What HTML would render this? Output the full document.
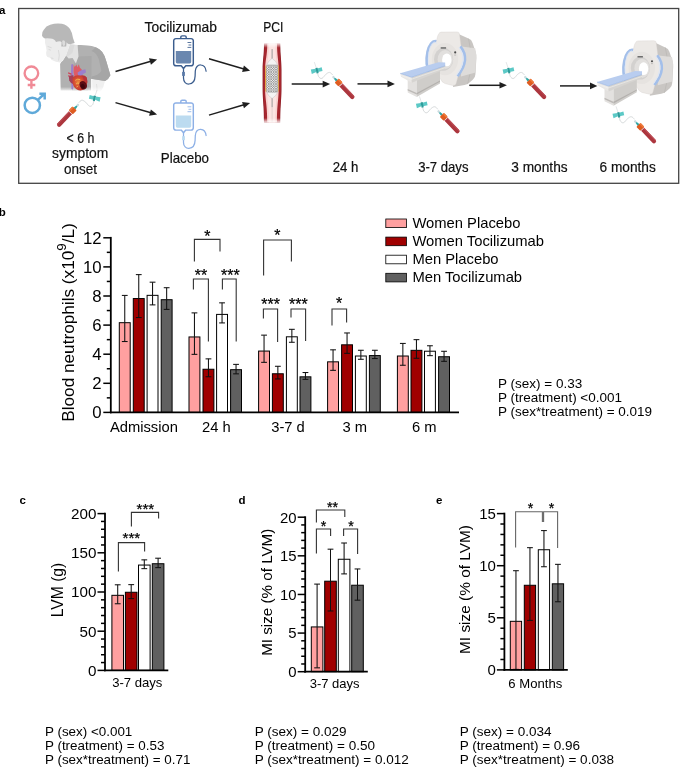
<!DOCTYPE html>
<html lang="en">
<head>
<meta charset="utf-8">
<title>Figure</title>
<style>
html,body{margin:0;padding:0;background:#fff;}
body{width:685px;height:767px;overflow:hidden;}
svg{display:block;}
</style>
</head>
<body>
<svg width="685" height="767" viewBox="0 0 685 767" font-family="'Liberation Sans', Arial, Helvetica, sans-serif" fill="#000">
<rect x="0" y="0" width="685" height="767" fill="#fff"/>
<text x="-1" y="14" font-size="11.5" text-anchor="start" font-weight="bold">a</text>
<text x="-1.2" y="216" font-size="11.5" text-anchor="start" font-weight="bold">b</text>
<text x="19.4" y="504" font-size="11.5" text-anchor="start" font-weight="bold">c</text>
<text x="238.5" y="504" font-size="11.5" text-anchor="start" font-weight="bold">d</text>
<text x="436.1" y="504" font-size="11.5" text-anchor="start" font-weight="bold">e</text>
<rect x="18.7" y="8.5" width="660" height="174.8" fill="none" stroke="#444" stroke-width="1.3"/>
<defs>
<linearGradient id="fadeBody" x1="0" y1="0" x2="0" y2="1">
<stop offset="0" stop-color="#fff" stop-opacity="0"/>
<stop offset="0.84" stop-color="#fff" stop-opacity="0"/>
<stop offset="1" stop-color="#fff" stop-opacity="1"/>
</linearGradient>
<linearGradient id="vesselFade" x1="0" y1="0" x2="0" y2="1">
<stop offset="0" stop-color="#fff" stop-opacity="0.9"/>
<stop offset="0.06" stop-color="#fff" stop-opacity="0"/>
<stop offset="0.94" stop-color="#fff" stop-opacity="0"/>
<stop offset="1" stop-color="#fff" stop-opacity="0.9"/>
</linearGradient>
<pattern id="mesh" width="2.4" height="2.4" patternUnits="userSpaceOnUse">
<rect width="2.4" height="2.4" fill="#f4f4f4"/>
<path d="M0 0 L2.4 2.4 M2.4 0 L0 2.4" stroke="#666" stroke-width="0.5"/>
</pattern>
<radialGradient id="heartG" cx="0.4" cy="0.45" r="0.7">
<stop offset="0" stop-color="#EC8A3A"/>
<stop offset="0.45" stop-color="#D44A32"/>
<stop offset="1" stop-color="#B02A2E"/>
</radialGradient>
<g id="bloodtube">
<line x1="-2.4" y1="-8.6" x2="0.2" y2="-1" stroke="#c9cdcf" stroke-width="0.5"/>
<path d="M0.95 2.2 C1.3 4.6 1.7 6 2.45 6.6 C3.6 8.2 5.2 8.1 6.3 6.9 C7.8 5.3 8.6 3.8 9.95 3.0 C11.2 2.0 12.2 1.6 12.95 1.75 C14.2 2.0 15.2 3.2 15.95 4.3" fill="none" stroke="#d6dadb" stroke-width="1"/>
<polygon points="-5.9,-1.2 -1,-1.9 -0.4,1.2 -4.9,3.3" fill="#5CC9C6"/>
<polygon points="0.7,-2.2 5,-3.4 5.8,0.3 1.2,1.2" fill="#5CC9C6"/>
<polygon points="-1.3,-2.6 0.9,-3 1.9,2.2 -0.1,2.7" fill="#2E9C9A"/>
<g transform="translate(21.9 11.8) rotate(46.5)">
<rect x="-8.6" y="-1.1" width="2.8" height="2.2" rx="0.9" fill="#C9DBDF"/>
<polygon points="-6,-0.75 -2.4,-1.3 -2.4,1.3 -6,0.75" fill="#2FA7A5"/>
<path d="M2 -2.1 H19.9 A2.1 2.1 0 0 1 19.9 2.1 H2 Z" fill="#AC363E"/>
<rect x="2.6" y="-2.1" width="1" height="4.2" fill="#f6e9e9"/>
<path d="M3.6 -2.1 H19.9 A2.1 2.1 0 0 1 21.6 -1.2 L3.6 -1.1 Z" fill="#BE5058"/>
<rect x="-2.7" y="-2.9" width="5.4" height="5.8" rx="0.9" fill="#DF5C20"/>
<rect x="-2.7" y="-2.9" width="5.4" height="1.7" rx="0.8" fill="#EE7A3A"/>
</g>
</g>
<g id="mri">
<!-- rear body -->
<path d="M63.5 9 L73.5 13.6 Q76.6 14.6 77.6 18 L80.6 27 Q81.6 30 81.4 33 L80.4 49.5 Q80.2 52.5 78 54.4 L74 58 Q72 59.6 69.5 60 L58 62 Z" fill="#C9C6C3"/>
<path d="M66.5 21.6 L80.2 23.2 L81.2 29 L80.6 47.6 L66 51.5 Z" fill="#DEDCDA"/>
<path d="M73.5 13.6 L75.2 22.6 M74.8 49.4 L72.6 59.2" stroke="#b3b0ad" stroke-width="0.5" fill="none"/>
<!-- front housing -->
<path d="M43.9 8.8 Q44.2 7.2 46.4 7.1 L62 6.9 Q64.2 6.9 64.5 9 L66 20.6 Q77.3 34.4 62.9 51.9 L61.2 58.4 Q60.6 60.8 57.6 60.4 L50 58.6 Q46.4 57 45.4 53.7 L34.1 48.8 A9.2 19 0 0 1 41.5 15.6 L42.9 10.4 Z" fill="#ECE9E6" stroke="#d3cfcb" stroke-width="0.35"/>
<!-- blue arcs -->
<path d="M41.3 16.2 A8.6 18.6 0 0 0 34.6 48.6" fill="none" stroke="#A3BFEA" stroke-width="2.5"/>
<path d="M42 18.6 A6 16.4 0 0 0 37.2 49.2" fill="none" stroke="#DCE6F6" stroke-width="0.8"/>
<path d="M65.4 21.4 Q76 34.4 62.6 51.2" fill="none" stroke="#A3BFEA" stroke-width="2.5"/>
<path d="M64 22.4 Q73.4 34.5 61.4 50.4" fill="none" stroke="#DCE6F6" stroke-width="1"/>
<!-- inner ring + bore -->
<ellipse cx="50" cy="34.1" rx="13.2" ry="16.2" fill="#E6E3E0"/>
<ellipse cx="48.6" cy="34.3" rx="9.6" ry="11.4" fill="#D3D1CF"/>
<ellipse cx="50.2" cy="34.5" rx="7.6" ry="9.6" fill="#E2E0DE"/>
<ellipse cx="51.8" cy="34.9" rx="4.7" ry="6.4" fill="#fff"/>
<!-- little details -->
<rect x="45.7" y="22.2" width="5.4" height="1.5" fill="#6e6e6e"/>
<circle cx="60.2" cy="27.4" r="1.05" fill="#4a4a4a"/>
<rect x="59.2" y="29.8" width="1.9" height="0.45" fill="#8a8a8a"/>
<!-- table base -->
<polygon points="12.7,53 21.7,56 21.7,72 12.7,67.5" fill="#E3E1DF"/>
<polygon points="21.7,55 45,44 45,58.5 21.7,72" fill="#CFCDCA"/>
<polygon points="12.7,64 21.7,68 21.7,69.6 12.7,65.5" fill="#bdbab7"/>
<polygon points="21.7,68 45,55.6 45,56.8 21.7,69.6" fill="#b4b1ae"/>
<!-- table slab -->
<polygon points="5.2,48.3 16.5,52.2 16.8,57.7 6,51.7" fill="#E9E7E5"/>
<polygon points="16.5,52.2 50.2,40.8 50.2,44.2 16.8,57.7" fill="#D6D4D1"/>
<polygon points="5.2,48.3 43.5,37.2 50.2,37.5 50.2,40.8 16.5,52.2" fill="#B9CDEF"/>
<path d="M5.2 48.3 L16.5 52.2 L50.2 40.8" fill="none" stroke="#8FAEE0" stroke-width="0.55"/>
<path d="M6 50.4 L16.6 54.2 L50.2 42.6" fill="none" stroke="#f7f6f5" stroke-width="0.5"/>
</g>
</defs>
<g id="person">
<path d="M92 78 L105 81 Q104 87 100.5 92 L92.5 91.5 Z" fill="#F0F0F0"/>
<path d="M96.5 84 Q97.5 88 96.6 92" stroke="#d6d6d6" stroke-width="0.6" fill="none"/>
<path d="M77.6 45.1 Q83 44.8 87.6 45.5 Q92 45.9 95.7 47.2 Q99.6 48.8 102.2 51.9 Q105 55.6 106.3 61.2 L110.4 75.2 Q108.6 79.2 105.1 81.1 L91.1 78.7 L91.1 90.6 L60.7 90.6 L60.1 64.1 Q61 61.6 63 60.6 L66 55.4 L72 50 Z" fill="#B1B1B1"/>
<path d="M91.6 51 Q97 53 99 60 L101.4 71 Q98 75.6 91.6 76.4 L91.1 78.7 L105.1 81.1 Q108.6 79.2 110.4 75.2 L106.3 61.2 Q105 55.6 102.2 51.9 Q99.6 48.8 95.7 47.2 Z" fill="#A6A6A6"/>
<path d="M78.5 56.6 L91.6 56 L91.4 76.4 L88 90.6 L72 90.6 L74 64 Z" fill="#A9A9A9"/>
<path d="M66 55.4 L70 44.3 L77.6 45.1 L78.5 56.6 L75.9 63.4 L72.6 58 L68.6 58.4 Z" fill="#E3E3E3"/>
<path d="M70 44.3 L74.6 44.8 L72.4 53 L67.4 56.8 L66 55.4 Z" fill="#DBDBDB"/>
<path d="M44.9 38.4 Q44.6 43 46.1 47.2 L46.6 50.4 Q45.6 53.4 46.4 55.6 L47.5 57 L50.6 57.9 L51.1 59.4 L52.4 60.2 Q55.6 62.2 60.1 62.4 Q63.6 59.6 66 55.4 L70 44.3 L64 37.4 L52 34.4 Z" fill="#ECECEC"/>
<path d="M47.6 46.4 L51.6 47.8 M48.6 49.4 L50.8 50.2 M50.6 57.9 L53.4 58.4 M58.4 50 Q60 55 58.6 60.6" stroke="#c9c9c9" stroke-width="0.55" fill="none"/>
<path d="M44.9 38.4 Q42.4 37.6 42 35.5 Q41.6 32 43.8 29.7 Q46 26 50.2 24.8 Q56 22.8 61.9 23.8 Q67.4 25.2 70 29.1 Q72.4 33 73 37.9 L74.7 43.1 L70 44.3 Q67.4 44 66.6 42.2 L66.2 46.6 L61.3 46.6 L61.6 42.2 Q60.4 40.6 56 41.9 Q54.6 38.6 50.4 38.4 Q47 38 44.9 38.4 Z" fill="#B8B8B8"/>
<path d="M62.2 40.8 Q64.4 39.4 65.2 42 Q65.6 45.4 63.6 46.4 Q61.8 44 62.2 40.8 Z" fill="#DCDCDC"/>
<rect x="58" y="60" width="56" height="32" fill="url(#fadeBody)"/>
<g id="heart">
<path d="M71.2 64.4 L73 64 L73.4 76 L73 89.4 L71.4 89 Q71.8 82 71 76 Z" fill="#9B7FCC"/>
<path d="M68.2 72.2 L71.6 73.6 L71.4 75 L68 73.6 Z M68.4 75 L71.4 76.4 L71.2 77.8 L68.2 76.4 Z" fill="#D04458"/>
<path d="M73.6 64.2 L74.8 67 L76.4 64.6 L77.4 67.2 L78.8 64.2 L79.8 67.6 Q82.4 69.4 82.6 73 L81.4 78 L75 79 Q72.8 72 73.6 64.2 Z" fill="#DE5B66"/>
<path d="M77.6 72.6 Q81 69.4 85.4 69.2 L86 72.4 Q82.6 73.4 81.6 76.6 L78.4 77.6 Z" fill="#9B7FCC"/>
<path d="M68.9 76.6 Q71 74.8 73.6 75.4 L73.2 84 Q70.4 83.4 69.2 80.6 Z" fill="#A4405A"/>
<path d="M72.6 77.6 Q76 74.6 80.4 75.6 Q84.6 74.6 86.6 77.6 Q88 81.6 86.6 85.6 Q84.8 90 80.6 90.6 Q76.4 90.4 74 86.8 Q72 83.4 72.6 77.6 Z" fill="url(#heartG)"/>
<path d="M82.4 76 Q85.4 75.6 86.6 77.6 Q87.4 80 87.2 82.4 L84 80.6 Z" fill="#B8343A"/>
<ellipse cx="83.2" cy="85.2" rx="3.5" ry="4.3" fill="#5C0D14" transform="rotate(-24 83.2 85.2)"/>
<ellipse cx="82.8" cy="86.2" rx="2" ry="2.5" fill="#3E060C" transform="rotate(-24 82.8 86.2)"/>
<path d="M75.2 80.4 Q77.6 78.4 80.2 79.6 M76 84 Q77.6 82.6 79.2 83.4 M76.4 87 L78 86.4" stroke="#F6C85A" stroke-width="0.7" fill="none"/>
</g>
</g>
<g fill="none" stroke="#F08A96" stroke-width="2.35"><circle cx="31.4" cy="73.3" r="6.8"/><path d="M31.4 80.2 V88.8 M27.7 85 H35.3"/></g>
<g fill="none" stroke="#5FA9D9" stroke-width="2.5"><circle cx="32.3" cy="105.3" r="7.65"/><path d="M37.8 99.9 L44.2 94 M39.4 93.7 H44.7 V99.4"/></g>
<use href="#bloodtube" transform="translate(94.7 98.5) scale(-1 1)"/>
<text x="66.5" y="142.8" font-size="13.9" textLength="27.8" lengthAdjust="spacingAndGlyphs" fill="#111" stroke="#111" stroke-width="0.2">&lt; 6 h</text>
<text x="52.1" y="158.3" font-size="13.9" textLength="56.1" lengthAdjust="spacingAndGlyphs" fill="#111" stroke="#111" stroke-width="0.2">symptom</text>
<text x="63.9" y="173.8" font-size="13.9" textLength="33.1" lengthAdjust="spacingAndGlyphs" fill="#111" stroke="#111" stroke-width="0.2">onset</text>
<text x="144.6" y="31.9" font-size="13.9" textLength="72.3" lengthAdjust="spacingAndGlyphs" fill="#111" stroke="#111" stroke-width="0.2">Tocilizumab</text>
<text x="263.3" y="31.9" font-size="13.9" textLength="20.1" lengthAdjust="spacingAndGlyphs" fill="#111" stroke="#111" stroke-width="0.2">PCI</text>
<text x="160.8" y="162.8" font-size="13.9" textLength="48.2" lengthAdjust="spacingAndGlyphs" fill="#111" stroke="#111" stroke-width="0.2">Placebo</text>
<text x="332.7" y="172.1" font-size="13.9" textLength="25.7" lengthAdjust="spacingAndGlyphs" fill="#111" stroke="#111" stroke-width="0.2">24 h</text>
<text x="418.2" y="172.1" font-size="13.9" textLength="50.3" lengthAdjust="spacingAndGlyphs" fill="#111" stroke="#111" stroke-width="0.2">3-7 days</text>
<text x="511.3" y="172.1" font-size="13.9" textLength="56.3" lengthAdjust="spacingAndGlyphs" fill="#111" stroke="#111" stroke-width="0.2">3 months</text>
<text x="599.5" y="172.1" font-size="13.9" textLength="56.3" lengthAdjust="spacingAndGlyphs" fill="#111" stroke="#111" stroke-width="0.2">6 months</text>
<line x1="115.5" y1="71.5" x2="150.95" y2="61.19" stroke="#1f1f1f" stroke-width="1.5"/>
<polygon points="157.1,59.4 150.92,64.64 149.07,58.3" fill="#1f1f1f"/>
<line x1="115.5" y1="102.6" x2="150.95" y2="112.83" stroke="#1f1f1f" stroke-width="1.5"/>
<polygon points="157.1,114.6 149.08,115.72 150.9,109.38" fill="#1f1f1f"/>
<line x1="209" y1="58.8" x2="243.96" y2="69.01" stroke="#1f1f1f" stroke-width="1.5"/>
<polygon points="250.1,70.8 242.07,71.89 243.92,65.56" fill="#1f1f1f"/>
<line x1="209" y1="115.1" x2="243.96" y2="104.81" stroke="#1f1f1f" stroke-width="1.5"/>
<polygon points="250.1,103 243.93,108.26 242.07,101.92" fill="#1f1f1f"/>
<line x1="291.7" y1="84.1" x2="323.7" y2="84.1" stroke="#1f1f1f" stroke-width="1.5"/>
<polygon points="330.1,84.1 322.7,87.4 322.7,80.8" fill="#1f1f1f"/>
<line x1="357.5" y1="83.9" x2="388.5" y2="83.9" stroke="#1f1f1f" stroke-width="1.5"/>
<polygon points="394.9,83.9 387.5,87.2 387.5,80.6" fill="#1f1f1f"/>
<line x1="469.3" y1="85.3" x2="500.5" y2="85.3" stroke="#1f1f1f" stroke-width="1.5"/>
<polygon points="506.9,85.3 499.5,88.6 499.5,82" fill="#1f1f1f"/>
<line x1="560" y1="85.9" x2="591" y2="85.9" stroke="#1f1f1f" stroke-width="1.5"/>
<polygon points="597.4,85.9 590,89.2 590,82.6" fill="#1f1f1f"/>
<g transform="translate(173.5 35.6)" fill="none" stroke="#3B5D8E" stroke-linecap="round" stroke-linejoin="round">
<path d="M7.3 3 V1.6 A1.3 1.3 0 0 1 8.6 0.3 H11.4 A1.3 1.3 0 0 1 12.7 1.6 V3" stroke-width="1.4"/>
<path d="M2.4 3 H17.6 A2.2 2.2 0 0 1 19.8 5.2 V27.8 A2.4 2.4 0 0 1 17.4 30.2 H12.3 L10 32.8 L7.7 30.2 H2.6 A2.4 2.4 0 0 1 0.2 27.8 V5.2 A2.2 2.2 0 0 1 2.4 3 Z" fill="#fff" stroke-width="1.45"/>
<path d="M2.3 15.5 H17.7 V26.2 A1.6 1.6 0 0 1 16.1 27.8 H3.9 A1.6 1.6 0 0 1 2.3 26.2 Z" stroke="none" fill="#6A87AF"/>
<path d="M14.4 6.9 H17.4 M15.4 9.4 H17.4 M14.4 11.8 H17.4" stroke-width="0.85"/>
<path d="M10 32.8 V42.5 C10 46.5 12.5 48.6 15.5 48.4 C19.5 48.2 21.4 45 21.6 40.5 L21.8 35.5 C22 31.5 24.4 29.2 27.2 29.4 C30.4 29.6 32.2 32 32.6 35.6" stroke-width="1.25"/>
<rect x="8.6" y="36.3" width="2.8" height="4" stroke="none" fill="#5B7BA8"/>
</g>
<g transform="translate(173.5 99.9)" fill="none" stroke="#8DB0E6" stroke-linecap="round" stroke-linejoin="round">
<path d="M7.3 3 V1.6 A1.3 1.3 0 0 1 8.6 0.3 H11.4 A1.3 1.3 0 0 1 12.7 1.6 V3" stroke-width="1.4"/>
<path d="M2.4 3 H17.6 A2.2 2.2 0 0 1 19.8 5.2 V27.8 A2.4 2.4 0 0 1 17.4 30.2 H12.3 L10 32.8 L7.7 30.2 H2.6 A2.4 2.4 0 0 1 0.2 27.8 V5.2 A2.2 2.2 0 0 1 2.4 3 Z" fill="#fff" stroke-width="1.45"/>
<path d="M2.3 15.5 H17.7 V26.2 A1.6 1.6 0 0 1 16.1 27.8 H3.9 A1.6 1.6 0 0 1 2.3 26.2 Z" stroke="none" fill="#BCDBF0"/>
<path d="M14.4 6.9 H17.4 M15.4 9.4 H17.4 M14.4 11.8 H17.4" stroke-width="0.85"/>
<path d="M10 32.8 V42.5 C10 46.5 12.5 48.6 15.5 48.4 C19.5 48.2 21.4 45 21.6 40.5 L21.8 35.5 C22 31.5 24.4 29.2 27.2 29.4 C30.4 29.6 32.2 32 32.6 35.6" stroke-width="1.25"/>
<rect x="8.6" y="36.3" width="2.8" height="4" stroke="none" fill="#BCDBF0"/>
</g>
<g id="vessel">
<path d="M264 43.2 C264 56 262.6 60 262.6 70 L262.6 88 C262.6 100 264 104 264 122.6 H280.3 C280.3 104 281.5 100 281.5 88 L281.5 70 C281.5 60 280.3 56 280.3 43.2 Z" fill="#8A1A22"/>
<path d="M264.5 43.2 C264.5 56 263.1 60 263.1 70 L263.1 88 C263.1 100 264.5 104 264.5 122.6 H279.8 C279.8 104 281 100 281 88 L281 70 C281 60 279.8 56 279.8 43.2 Z" fill="#A6272F"/>
<path d="M267.3 43.2 C267.3 56 265.1 60 265.1 70 L265.1 88 C265.1 100 267.3 104 267.3 122.6 H277 C277 104 278.7 100 278.7 88 L278.7 70 C278.7 60 277 56 277 43.2 Z" fill="#F9D2D0"/>
<path d="M269 43.2 C269 56 267 60 267 70 L267 88 C267 100 269 104 269 122.6 H275.4 C275.4 104 276.8 100 276.8 88 L276.8 70 C276.8 60 275.4 56 275.4 43.2 Z" fill="#FCE4E2"/>
<path d="M265.9 65.5 Q265.1 78.5 265.9 91.6" stroke="#EDA31E" stroke-width="0.9" fill="none"/>
<path d="M278.1 65.5 Q278.9 78.5 278.1 91.6" stroke="#EDA31E" stroke-width="0.9" fill="none"/>
<line x1="272.1" y1="49.1" x2="272.1" y2="107.2" stroke="#999" stroke-width="1"/>
<line x1="272.1" y1="107.2" x2="272.1" y2="122.6" stroke="#c9b9b9" stroke-width="0.45"/>
<path d="M272.1 58.3 Q267.6 61.4 266.6 65.4 H277.7 Q276.7 61.4 272.1 58.3 Z" fill="#F4F4F4" stroke="#b5b5b5" stroke-width="0.4"/>
<path d="M272.1 98.6 Q267.6 95.6 266.6 91.8 H277.7 Q276.7 95.6 272.1 98.6 Z" fill="#F4F4F4" stroke="#b5b5b5" stroke-width="0.4"/>
<rect x="266.3" y="65" width="11.7" height="27.2" rx="1.8" fill="url(#mesh)" stroke="#8c8c8c" stroke-width="0.4"/>
<rect x="262" y="43" width="20" height="79.8" fill="url(#vesselFade)"/>
</g>
<use href="#bloodtube" transform="translate(316.7 70.7)"/>
<use href="#bloodtube" transform="translate(421.8 105)"/>
<use href="#bloodtube" transform="translate(508.5 70.7)"/>
<use href="#bloodtube" transform="translate(618.4 115)"/>
<use href="#mri" transform="translate(395 25)"/>
<use href="#mri" transform="translate(591.8 33.8)"/>
<rect x="119.3" y="322.69" width="10.9" height="89.71" fill="#FFA0A0" stroke="#000" stroke-width="1"/>
<line x1="124.75" y1="341.54" x2="124.75" y2="295.42" stroke="#111" stroke-width="1.05"/>
<line x1="121.85" y1="295.42" x2="127.65" y2="295.42" stroke="#111" stroke-width="1.05"/>
<line x1="121.85" y1="341.54" x2="127.65" y2="341.54" stroke="#111" stroke-width="1.05"/>
<rect x="133.3" y="298.54" width="10.9" height="113.86" fill="#A00000" stroke="#000" stroke-width="1"/>
<line x1="138.75" y1="317.53" x2="138.75" y2="274.61" stroke="#111" stroke-width="1.05"/>
<line x1="135.85" y1="274.61" x2="141.65" y2="274.61" stroke="#111" stroke-width="1.05"/>
<line x1="135.85" y1="317.53" x2="141.65" y2="317.53" stroke="#111" stroke-width="1.05"/>
<rect x="147.1" y="295.34" width="10.9" height="117.06" fill="#FFFFFF" stroke="#000" stroke-width="1"/>
<line x1="152.55" y1="304.88" x2="152.55" y2="282.18" stroke="#111" stroke-width="1.05"/>
<line x1="149.65" y1="282.18" x2="155.45" y2="282.18" stroke="#111" stroke-width="1.05"/>
<line x1="149.65" y1="304.88" x2="155.45" y2="304.88" stroke="#111" stroke-width="1.05"/>
<rect x="161.2" y="299.7" width="10.9" height="112.7" fill="#606060" stroke="#000" stroke-width="1"/>
<line x1="166.65" y1="309.39" x2="166.65" y2="287.71" stroke="#111" stroke-width="1.05"/>
<line x1="163.75" y1="287.71" x2="169.55" y2="287.71" stroke="#111" stroke-width="1.05"/>
<line x1="163.75" y1="309.39" x2="169.55" y2="309.39" stroke="#111" stroke-width="1.05"/>
<rect x="189" y="336.95" width="10.9" height="75.45" fill="#FFA0A0" stroke="#000" stroke-width="1"/>
<line x1="194.45" y1="354.35" x2="194.45" y2="312.88" stroke="#111" stroke-width="1.05"/>
<line x1="191.55" y1="312.88" x2="197.35" y2="312.88" stroke="#111" stroke-width="1.05"/>
<line x1="191.55" y1="354.35" x2="197.35" y2="354.35" stroke="#111" stroke-width="1.05"/>
<rect x="203" y="369.25" width="10.9" height="43.15" fill="#A00000" stroke="#000" stroke-width="1"/>
<line x1="208.45" y1="376.75" x2="208.45" y2="358.86" stroke="#111" stroke-width="1.05"/>
<line x1="205.55" y1="358.86" x2="211.35" y2="358.86" stroke="#111" stroke-width="1.05"/>
<line x1="205.55" y1="376.75" x2="211.35" y2="376.75" stroke="#111" stroke-width="1.05"/>
<rect x="216.6" y="314.4" width="10.9" height="98" fill="#FFFFFF" stroke="#000" stroke-width="1"/>
<line x1="222.05" y1="322.92" x2="222.05" y2="302.84" stroke="#111" stroke-width="1.05"/>
<line x1="219.15" y1="302.84" x2="224.95" y2="302.84" stroke="#111" stroke-width="1.05"/>
<line x1="219.15" y1="322.92" x2="224.95" y2="322.92" stroke="#111" stroke-width="1.05"/>
<rect x="230.6" y="369.69" width="10.9" height="42.71" fill="#606060" stroke="#000" stroke-width="1"/>
<line x1="236.05" y1="373.84" x2="236.05" y2="364.38" stroke="#111" stroke-width="1.05"/>
<line x1="233.15" y1="364.38" x2="238.95" y2="364.38" stroke="#111" stroke-width="1.05"/>
<line x1="233.15" y1="373.84" x2="238.95" y2="373.84" stroke="#111" stroke-width="1.05"/>
<rect x="258.6" y="351.06" width="10.9" height="61.34" fill="#FFA0A0" stroke="#000" stroke-width="1"/>
<line x1="264.05" y1="362.35" x2="264.05" y2="335.14" stroke="#111" stroke-width="1.05"/>
<line x1="261.15" y1="335.14" x2="266.95" y2="335.14" stroke="#111" stroke-width="1.05"/>
<line x1="261.15" y1="362.35" x2="266.95" y2="362.35" stroke="#111" stroke-width="1.05"/>
<rect x="272.4" y="373.76" width="10.9" height="38.64" fill="#A00000" stroke="#000" stroke-width="1"/>
<line x1="277.85" y1="378.94" x2="277.85" y2="366.28" stroke="#111" stroke-width="1.05"/>
<line x1="274.95" y1="366.28" x2="280.75" y2="366.28" stroke="#111" stroke-width="1.05"/>
<line x1="274.95" y1="378.94" x2="280.75" y2="378.94" stroke="#111" stroke-width="1.05"/>
<rect x="286.4" y="336.8" width="10.9" height="75.6" fill="#FFFFFF" stroke="#000" stroke-width="1"/>
<line x1="291.85" y1="342.27" x2="291.85" y2="329.32" stroke="#111" stroke-width="1.05"/>
<line x1="288.95" y1="329.32" x2="294.75" y2="329.32" stroke="#111" stroke-width="1.05"/>
<line x1="288.95" y1="342.27" x2="294.75" y2="342.27" stroke="#111" stroke-width="1.05"/>
<rect x="300" y="376.82" width="10.9" height="35.58" fill="#606060" stroke="#000" stroke-width="1"/>
<line x1="305.45" y1="379.37" x2="305.45" y2="372.53" stroke="#111" stroke-width="1.05"/>
<line x1="302.55" y1="372.53" x2="308.35" y2="372.53" stroke="#111" stroke-width="1.05"/>
<line x1="302.55" y1="379.37" x2="308.35" y2="379.37" stroke="#111" stroke-width="1.05"/>
<rect x="327.6" y="361.83" width="10.9" height="50.57" fill="#FFA0A0" stroke="#000" stroke-width="1"/>
<line x1="333.05" y1="370.35" x2="333.05" y2="349.83" stroke="#111" stroke-width="1.05"/>
<line x1="330.15" y1="349.83" x2="335.95" y2="349.83" stroke="#111" stroke-width="1.05"/>
<line x1="330.15" y1="370.35" x2="335.95" y2="370.35" stroke="#111" stroke-width="1.05"/>
<rect x="341.6" y="344.81" width="10.9" height="67.59" fill="#A00000" stroke="#000" stroke-width="1"/>
<line x1="347.05" y1="353.33" x2="347.05" y2="332.96" stroke="#111" stroke-width="1.05"/>
<line x1="344.15" y1="332.96" x2="349.95" y2="332.96" stroke="#111" stroke-width="1.05"/>
<line x1="344.15" y1="353.33" x2="349.95" y2="353.33" stroke="#111" stroke-width="1.05"/>
<rect x="355.4" y="356.01" width="10.9" height="56.39" fill="#FFFFFF" stroke="#000" stroke-width="1"/>
<line x1="360.85" y1="359.29" x2="360.85" y2="350.27" stroke="#111" stroke-width="1.05"/>
<line x1="357.95" y1="350.27" x2="363.75" y2="350.27" stroke="#111" stroke-width="1.05"/>
<line x1="357.95" y1="359.29" x2="363.75" y2="359.29" stroke="#111" stroke-width="1.05"/>
<rect x="369.4" y="355.57" width="10.9" height="56.83" fill="#606060" stroke="#000" stroke-width="1"/>
<line x1="374.85" y1="358.56" x2="374.85" y2="350.27" stroke="#111" stroke-width="1.05"/>
<line x1="371.95" y1="350.27" x2="377.75" y2="350.27" stroke="#111" stroke-width="1.05"/>
<line x1="371.95" y1="358.56" x2="377.75" y2="358.56" stroke="#111" stroke-width="1.05"/>
<rect x="397.4" y="356.01" width="10.9" height="56.39" fill="#FFA0A0" stroke="#000" stroke-width="1"/>
<line x1="402.85" y1="365.26" x2="402.85" y2="343.43" stroke="#111" stroke-width="1.05"/>
<line x1="399.95" y1="343.43" x2="405.75" y2="343.43" stroke="#111" stroke-width="1.05"/>
<line x1="399.95" y1="365.26" x2="405.75" y2="365.26" stroke="#111" stroke-width="1.05"/>
<rect x="411" y="350.33" width="10.9" height="62.06" fill="#A00000" stroke="#000" stroke-width="1"/>
<line x1="416.45" y1="358.27" x2="416.45" y2="339.65" stroke="#111" stroke-width="1.05"/>
<line x1="413.55" y1="339.65" x2="419.35" y2="339.65" stroke="#111" stroke-width="1.05"/>
<line x1="413.55" y1="358.27" x2="419.35" y2="358.27" stroke="#111" stroke-width="1.05"/>
<rect x="424.5" y="351.21" width="10.9" height="61.19" fill="#FFFFFF" stroke="#000" stroke-width="1"/>
<line x1="429.95" y1="355.65" x2="429.95" y2="345.76" stroke="#111" stroke-width="1.05"/>
<line x1="427.05" y1="345.76" x2="432.85" y2="345.76" stroke="#111" stroke-width="1.05"/>
<line x1="427.05" y1="355.65" x2="432.85" y2="355.65" stroke="#111" stroke-width="1.05"/>
<rect x="438.6" y="356.74" width="10.9" height="55.66" fill="#606060" stroke="#000" stroke-width="1"/>
<line x1="444.05" y1="361.33" x2="444.05" y2="351.29" stroke="#111" stroke-width="1.05"/>
<line x1="441.15" y1="351.29" x2="446.95" y2="351.29" stroke="#111" stroke-width="1.05"/>
<line x1="441.15" y1="361.33" x2="446.95" y2="361.33" stroke="#111" stroke-width="1.05"/>
<line x1="110.8" y1="236.9" x2="110.8" y2="413.3" stroke="#000" stroke-width="1.8"/>
<line x1="109.9" y1="412.4" x2="459" y2="412.4" stroke="#000" stroke-width="1.8"/>
<line x1="103.3" y1="412.4" x2="110.8" y2="412.4" stroke="#000" stroke-width="1.5"/>
<text x="101.6" y="418.43" font-size="16.75" text-anchor="end">0</text>
<line x1="106.8" y1="397.85" x2="110.8" y2="397.85" stroke="#000" stroke-width="1.5"/>
<line x1="103.3" y1="383.3" x2="110.8" y2="383.3" stroke="#000" stroke-width="1.5"/>
<text x="101.6" y="389.33" font-size="16.75" text-anchor="end">2</text>
<line x1="106.8" y1="368.75" x2="110.8" y2="368.75" stroke="#000" stroke-width="1.5"/>
<line x1="103.3" y1="354.2" x2="110.8" y2="354.2" stroke="#000" stroke-width="1.5"/>
<text x="101.6" y="360.23" font-size="16.75" text-anchor="end">4</text>
<line x1="106.8" y1="339.65" x2="110.8" y2="339.65" stroke="#000" stroke-width="1.5"/>
<line x1="103.3" y1="325.1" x2="110.8" y2="325.1" stroke="#000" stroke-width="1.5"/>
<text x="101.6" y="331.13" font-size="16.75" text-anchor="end">6</text>
<line x1="106.8" y1="310.55" x2="110.8" y2="310.55" stroke="#000" stroke-width="1.5"/>
<line x1="103.3" y1="296" x2="110.8" y2="296" stroke="#000" stroke-width="1.5"/>
<text x="101.6" y="302.03" font-size="16.75" text-anchor="end">8</text>
<line x1="106.8" y1="281.45" x2="110.8" y2="281.45" stroke="#000" stroke-width="1.5"/>
<line x1="103.3" y1="266.9" x2="110.8" y2="266.9" stroke="#000" stroke-width="1.5"/>
<text x="101.6" y="272.93" font-size="16.75" text-anchor="end">10</text>
<line x1="106.8" y1="252.35" x2="110.8" y2="252.35" stroke="#000" stroke-width="1.5"/>
<line x1="103.3" y1="237.8" x2="110.8" y2="237.8" stroke="#000" stroke-width="1.5"/>
<text x="101.6" y="243.83" font-size="16.75" text-anchor="end">12</text>
<text x="143.9" y="432.2" font-size="14.75" text-anchor="middle">Admission</text>
<text x="216.3" y="432.2" font-size="14.75" text-anchor="middle">24 h</text>
<text x="288" y="432.2" font-size="14.75" text-anchor="middle">3-7 d</text>
<text x="354.7" y="432.2" font-size="14.75" text-anchor="middle">3 m</text>
<text x="424.3" y="432.2" font-size="14.75" text-anchor="middle">6 m</text>
<text transform="translate(74.0 322.5) rotate(-90)" font-size="17.2" text-anchor="middle">Blood neutrophils (x10<tspan font-size="13.4" dy="-7.6">9</tspan><tspan dy="7.6">/L)</tspan></text>
<path d="M194.4 261.4 V239.4 H220 V251.6" stroke="#333" stroke-width="1.1" fill="none"/>
<text x="207.4" y="241.75" font-size="15.96" text-anchor="middle" stroke="#000" stroke-width="0.25">*</text>
<path d="M193.4 289.4 V279 H208.4 V341.6" stroke="#333" stroke-width="1.1" fill="none"/>
<text x="201" y="280.75" font-size="15.96" text-anchor="middle" stroke="#000" stroke-width="0.25">**</text>
<path d="M222.4 289.4 V279 H236.2 V341.6" stroke="#333" stroke-width="1.1" fill="none"/>
<text x="230.4" y="280.75" font-size="15.96" text-anchor="middle" stroke="#000" stroke-width="0.25">***</text>
<path d="M263.6 275.4 V240 H291.4 V261.6" stroke="#333" stroke-width="1.1" fill="none"/>
<text x="277.4" y="241.45" font-size="15.96" text-anchor="middle" stroke="#000" stroke-width="0.25">*</text>
<path d="M263.4 318.4 V309 H277.6 V342" stroke="#333" stroke-width="1.1" fill="none"/>
<text x="270.6" y="309.95" font-size="15.96" text-anchor="middle" stroke="#000" stroke-width="0.25">***</text>
<path d="M291 317.4 V309 H305.6 V341" stroke="#333" stroke-width="1.1" fill="none"/>
<text x="298.4" y="309.95" font-size="15.96" text-anchor="middle" stroke="#000" stroke-width="0.25">***</text>
<path d="M332 325.6 V309 H346.6 V322.6" stroke="#333" stroke-width="1.1" fill="none"/>
<text x="339.2" y="308.95" font-size="15.96" text-anchor="middle" stroke="#000" stroke-width="0.25">*</text>
<rect x="385.8" y="219" width="20.6" height="8.6" fill="#FFA0A0" stroke="#000" stroke-width="0.8"/>
<text x="412.4" y="227.7" font-size="14.78" text-anchor="start">Women Placebo</text>
<rect x="385.8" y="237.1" width="20.6" height="8.6" fill="#A00000" stroke="#000" stroke-width="0.8"/>
<text x="412.4" y="245.95" font-size="14.78" text-anchor="start">Women Tocilizumab</text>
<rect x="385.8" y="255.2" width="20.6" height="8.6" fill="#FFFFFF" stroke="#000" stroke-width="0.8"/>
<text x="412.4" y="264.2" font-size="14.78" text-anchor="start">Men Placebo</text>
<rect x="385.8" y="273.3" width="20.6" height="8.6" fill="#606060" stroke="#000" stroke-width="0.8"/>
<text x="412.4" y="282.45" font-size="14.78" text-anchor="start">Men Tocilizumab</text>
<text x="498.1" y="388.2" font-size="13.5" text-anchor="start">P (sex) = 0.33</text>
<text x="498.1" y="402.2" font-size="13.5" text-anchor="start">P (treatment) &lt;0.001</text>
<text x="498.1" y="416.2" font-size="13.5" text-anchor="start">P (sex*treatment) = 0.019</text>
<rect x="111.9" y="595.32" width="11.6" height="75.08" fill="#FFA0A0" stroke="#000" stroke-width="1"/>
<line x1="117.7" y1="603.76" x2="117.7" y2="584.79" stroke="#111" stroke-width="1.05"/>
<line x1="114.8" y1="584.79" x2="120.6" y2="584.79" stroke="#111" stroke-width="1.05"/>
<line x1="114.8" y1="603.76" x2="120.6" y2="603.76" stroke="#111" stroke-width="1.05"/>
<rect x="125.4" y="592.26" width="11.6" height="78.14" fill="#A00000" stroke="#000" stroke-width="1"/>
<line x1="131.2" y1="598.59" x2="131.2" y2="584.63" stroke="#111" stroke-width="1.05"/>
<line x1="128.3" y1="584.63" x2="134.1" y2="584.63" stroke="#111" stroke-width="1.05"/>
<line x1="128.3" y1="598.59" x2="134.1" y2="598.59" stroke="#111" stroke-width="1.05"/>
<rect x="138.5" y="565.06" width="11.6" height="105.34" fill="#FFFFFF" stroke="#000" stroke-width="1"/>
<line x1="144.3" y1="568.64" x2="144.3" y2="559.86" stroke="#111" stroke-width="1.05"/>
<line x1="141.4" y1="559.86" x2="147.2" y2="559.86" stroke="#111" stroke-width="1.05"/>
<line x1="141.4" y1="568.64" x2="147.2" y2="568.64" stroke="#111" stroke-width="1.05"/>
<rect x="152.3" y="563.73" width="11.6" height="106.67" fill="#606060" stroke="#000" stroke-width="1"/>
<line x1="158.1" y1="567.62" x2="158.1" y2="558.21" stroke="#111" stroke-width="1.05"/>
<line x1="155.2" y1="558.21" x2="161" y2="558.21" stroke="#111" stroke-width="1.05"/>
<line x1="155.2" y1="567.62" x2="161" y2="567.62" stroke="#111" stroke-width="1.05"/>
<line x1="105" y1="512.7" x2="105" y2="671.3" stroke="#000" stroke-width="1.8"/>
<line x1="104.1" y1="670.4" x2="168.3" y2="670.4" stroke="#000" stroke-width="1.8"/>
<line x1="97.5" y1="670.4" x2="105" y2="670.4" stroke="#000" stroke-width="1.5"/>
<text x="96.4" y="675.87" font-size="15.2" text-anchor="end">0</text>
<line x1="101" y1="662.56" x2="105" y2="662.56" stroke="#000" stroke-width="1.5"/>
<line x1="101" y1="654.72" x2="105" y2="654.72" stroke="#000" stroke-width="1.5"/>
<line x1="101" y1="646.88" x2="105" y2="646.88" stroke="#000" stroke-width="1.5"/>
<line x1="101" y1="639.04" x2="105" y2="639.04" stroke="#000" stroke-width="1.5"/>
<line x1="97.5" y1="631.2" x2="105" y2="631.2" stroke="#000" stroke-width="1.5"/>
<text x="96.4" y="636.67" font-size="15.2" text-anchor="end">50</text>
<line x1="101" y1="623.36" x2="105" y2="623.36" stroke="#000" stroke-width="1.5"/>
<line x1="101" y1="615.52" x2="105" y2="615.52" stroke="#000" stroke-width="1.5"/>
<line x1="101" y1="607.68" x2="105" y2="607.68" stroke="#000" stroke-width="1.5"/>
<line x1="101" y1="599.84" x2="105" y2="599.84" stroke="#000" stroke-width="1.5"/>
<line x1="97.5" y1="592" x2="105" y2="592" stroke="#000" stroke-width="1.5"/>
<text x="96.4" y="597.47" font-size="15.2" text-anchor="end">100</text>
<line x1="101" y1="584.16" x2="105" y2="584.16" stroke="#000" stroke-width="1.5"/>
<line x1="101" y1="576.32" x2="105" y2="576.32" stroke="#000" stroke-width="1.5"/>
<line x1="101" y1="568.48" x2="105" y2="568.48" stroke="#000" stroke-width="1.5"/>
<line x1="101" y1="560.64" x2="105" y2="560.64" stroke="#000" stroke-width="1.5"/>
<line x1="97.5" y1="552.8" x2="105" y2="552.8" stroke="#000" stroke-width="1.5"/>
<text x="96.4" y="558.27" font-size="15.2" text-anchor="end">150</text>
<line x1="101" y1="544.96" x2="105" y2="544.96" stroke="#000" stroke-width="1.5"/>
<line x1="101" y1="537.12" x2="105" y2="537.12" stroke="#000" stroke-width="1.5"/>
<line x1="101" y1="529.28" x2="105" y2="529.28" stroke="#000" stroke-width="1.5"/>
<line x1="101" y1="521.44" x2="105" y2="521.44" stroke="#000" stroke-width="1.5"/>
<line x1="97.5" y1="513.6" x2="105" y2="513.6" stroke="#000" stroke-width="1.5"/>
<text x="96.4" y="519.07" font-size="15.2" text-anchor="end">200</text>
<text x="137.3" y="686.9" font-size="13.1" text-anchor="middle">3-7 days</text>
<text transform="translate(63 590) rotate(-90)" font-size="15.7" text-anchor="middle">LVM (g)</text>
<path d="M118.4 571.4 V542.6 H144.6 V551.4" stroke="#333" stroke-width="1.1" fill="none"/>
<text x="131.4" y="543.45" font-size="15.15" text-anchor="middle" stroke="#000" stroke-width="0.25">***</text>
<path d="M131.4 526.6 V512.4 H158.6 V518.4" stroke="#333" stroke-width="1.1" fill="none"/>
<text x="145.4" y="514.05" font-size="15.15" text-anchor="middle" stroke="#000" stroke-width="0.25">***</text>
<text x="45" y="736.4" font-size="13.42" text-anchor="start">P (sex) &lt;0.001</text>
<text x="45" y="750.2" font-size="13.42" text-anchor="start">P (treatment) = 0.53</text>
<text x="45" y="764" font-size="13.42" text-anchor="start">P (sex*treatment) = 0.71</text>
<rect x="311.3" y="626.93" width="11.6" height="44.77" fill="#FFA0A0" stroke="#000" stroke-width="1"/>
<line x1="317.1" y1="667.84" x2="317.1" y2="584.1" stroke="#111" stroke-width="1.05"/>
<line x1="314.2" y1="584.1" x2="320" y2="584.1" stroke="#111" stroke-width="1.05"/>
<line x1="314.2" y1="667.84" x2="320" y2="667.84" stroke="#111" stroke-width="1.05"/>
<rect x="324.7" y="581.2" width="11.6" height="90.5" fill="#A00000" stroke="#000" stroke-width="1"/>
<line x1="330.5" y1="610.98" x2="330.5" y2="549.18" stroke="#111" stroke-width="1.05"/>
<line x1="327.6" y1="549.18" x2="333.4" y2="549.18" stroke="#111" stroke-width="1.05"/>
<line x1="327.6" y1="610.98" x2="333.4" y2="610.98" stroke="#111" stroke-width="1.05"/>
<rect x="338.3" y="559.26" width="11.6" height="112.44" fill="#FFFFFF" stroke="#000" stroke-width="1"/>
<line x1="344.1" y1="573.9" x2="344.1" y2="543" stroke="#111" stroke-width="1.05"/>
<line x1="341.2" y1="543" x2="347" y2="543" stroke="#111" stroke-width="1.05"/>
<line x1="341.2" y1="573.9" x2="347" y2="573.9" stroke="#111" stroke-width="1.05"/>
<rect x="351.7" y="585.22" width="11.6" height="86.48" fill="#606060" stroke="#000" stroke-width="1"/>
<line x1="357.5" y1="600.17" x2="357.5" y2="568.96" stroke="#111" stroke-width="1.05"/>
<line x1="354.6" y1="568.96" x2="360.4" y2="568.96" stroke="#111" stroke-width="1.05"/>
<line x1="354.6" y1="600.17" x2="360.4" y2="600.17" stroke="#111" stroke-width="1.05"/>
<line x1="305.2" y1="516.3" x2="305.2" y2="672.6" stroke="#000" stroke-width="1.8"/>
<line x1="304.3" y1="671.7" x2="367.8" y2="671.7" stroke="#000" stroke-width="1.8"/>
<line x1="297.7" y1="671.7" x2="305.2" y2="671.7" stroke="#000" stroke-width="1.5"/>
<text x="296.6" y="677.06" font-size="14.9" text-anchor="end">0</text>
<line x1="301.2" y1="663.98" x2="305.2" y2="663.98" stroke="#000" stroke-width="1.5"/>
<line x1="301.2" y1="656.25" x2="305.2" y2="656.25" stroke="#000" stroke-width="1.5"/>
<line x1="301.2" y1="648.53" x2="305.2" y2="648.53" stroke="#000" stroke-width="1.5"/>
<line x1="301.2" y1="640.8" x2="305.2" y2="640.8" stroke="#000" stroke-width="1.5"/>
<line x1="297.7" y1="633.08" x2="305.2" y2="633.08" stroke="#000" stroke-width="1.5"/>
<text x="296.6" y="638.44" font-size="14.9" text-anchor="end">5</text>
<line x1="301.2" y1="625.35" x2="305.2" y2="625.35" stroke="#000" stroke-width="1.5"/>
<line x1="301.2" y1="617.62" x2="305.2" y2="617.62" stroke="#000" stroke-width="1.5"/>
<line x1="301.2" y1="609.9" x2="305.2" y2="609.9" stroke="#000" stroke-width="1.5"/>
<line x1="301.2" y1="602.18" x2="305.2" y2="602.18" stroke="#000" stroke-width="1.5"/>
<line x1="297.7" y1="594.45" x2="305.2" y2="594.45" stroke="#000" stroke-width="1.5"/>
<text x="296.6" y="599.81" font-size="14.9" text-anchor="end">10</text>
<line x1="301.2" y1="586.73" x2="305.2" y2="586.73" stroke="#000" stroke-width="1.5"/>
<line x1="301.2" y1="579" x2="305.2" y2="579" stroke="#000" stroke-width="1.5"/>
<line x1="301.2" y1="571.28" x2="305.2" y2="571.28" stroke="#000" stroke-width="1.5"/>
<line x1="301.2" y1="563.55" x2="305.2" y2="563.55" stroke="#000" stroke-width="1.5"/>
<line x1="297.7" y1="555.83" x2="305.2" y2="555.83" stroke="#000" stroke-width="1.5"/>
<text x="296.6" y="561.19" font-size="14.9" text-anchor="end">15</text>
<line x1="301.2" y1="548.1" x2="305.2" y2="548.1" stroke="#000" stroke-width="1.5"/>
<line x1="301.2" y1="540.38" x2="305.2" y2="540.38" stroke="#000" stroke-width="1.5"/>
<line x1="301.2" y1="532.65" x2="305.2" y2="532.65" stroke="#000" stroke-width="1.5"/>
<line x1="301.2" y1="524.93" x2="305.2" y2="524.93" stroke="#000" stroke-width="1.5"/>
<line x1="297.7" y1="517.2" x2="305.2" y2="517.2" stroke="#000" stroke-width="1.5"/>
<text x="296.6" y="522.56" font-size="14.9" text-anchor="end">20</text>
<text x="334.6" y="688.1" font-size="13" text-anchor="middle">3-7 days</text>
<text transform="translate(271.7 592.25) rotate(-90)" font-size="15.2" text-anchor="middle">MI size (% of LVM)</text>
<path d="M316.4 522.6 V510 H344.8 V517" stroke="#333" stroke-width="1.1" fill="none"/>
<text x="332.6" y="512.05" font-size="14.24" text-anchor="middle" stroke="#000" stroke-width="0.25">**</text>
<path d="M316.4 553.6 V529 H330.6 V536" stroke="#333" stroke-width="1.1" fill="none"/>
<text x="323.4" y="531.05" font-size="14.24" text-anchor="middle" stroke="#000" stroke-width="0.25">*</text>
<path d="M343.6 536 V529 H357.6 V554" stroke="#333" stroke-width="1.1" fill="none"/>
<text x="351" y="531.05" font-size="14.24" text-anchor="middle" stroke="#000" stroke-width="0.25">*</text>
<text x="254.7" y="736" font-size="13.52" text-anchor="start">P (sex) = 0.029</text>
<text x="254.7" y="749.8" font-size="13.52" text-anchor="start">P (treatment) = 0.50</text>
<text x="254.7" y="763.6" font-size="13.52" text-anchor="start">P (sex*treatment) = 0.012</text>
<rect x="510.3" y="621.32" width="11.3" height="48.58" fill="#FFA0A0" stroke="#000" stroke-width="1"/>
<line x1="515.95" y1="669.38" x2="515.95" y2="570.7" stroke="#111" stroke-width="1.05"/>
<line x1="513.05" y1="570.7" x2="518.85" y2="570.7" stroke="#111" stroke-width="1.05"/>
<line x1="513.05" y1="669.38" x2="518.85" y2="669.38" stroke="#111" stroke-width="1.05"/>
<rect x="524.3" y="585.27" width="11.3" height="84.63" fill="#A00000" stroke="#000" stroke-width="1"/>
<line x1="529.95" y1="620.4" x2="529.95" y2="547.67" stroke="#111" stroke-width="1.05"/>
<line x1="527.05" y1="547.67" x2="532.85" y2="547.67" stroke="#111" stroke-width="1.05"/>
<line x1="527.05" y1="620.4" x2="532.85" y2="620.4" stroke="#111" stroke-width="1.05"/>
<rect x="538.3" y="549.74" width="11.3" height="120.16" fill="#FFFFFF" stroke="#000" stroke-width="1"/>
<line x1="543.95" y1="566.74" x2="543.95" y2="530.58" stroke="#111" stroke-width="1.05"/>
<line x1="541.05" y1="530.58" x2="546.85" y2="530.58" stroke="#111" stroke-width="1.05"/>
<line x1="541.05" y1="566.74" x2="546.85" y2="566.74" stroke="#111" stroke-width="1.05"/>
<rect x="552.3" y="583.81" width="11.3" height="86.09" fill="#606060" stroke="#000" stroke-width="1"/>
<line x1="557.95" y1="601.75" x2="557.95" y2="564.35" stroke="#111" stroke-width="1.05"/>
<line x1="555.05" y1="564.35" x2="560.85" y2="564.35" stroke="#111" stroke-width="1.05"/>
<line x1="555.05" y1="601.75" x2="560.85" y2="601.75" stroke="#111" stroke-width="1.05"/>
<line x1="504.4" y1="512.7" x2="504.4" y2="670.8" stroke="#000" stroke-width="1.8"/>
<line x1="503.5" y1="669.9" x2="567.8" y2="669.9" stroke="#000" stroke-width="1.8"/>
<line x1="496.9" y1="669.9" x2="504.4" y2="669.9" stroke="#000" stroke-width="1.5"/>
<text x="495.9" y="675.3" font-size="15" text-anchor="end">0</text>
<line x1="500.4" y1="659.48" x2="504.4" y2="659.48" stroke="#000" stroke-width="1.5"/>
<line x1="500.4" y1="649.06" x2="504.4" y2="649.06" stroke="#000" stroke-width="1.5"/>
<line x1="500.4" y1="638.64" x2="504.4" y2="638.64" stroke="#000" stroke-width="1.5"/>
<line x1="500.4" y1="628.22" x2="504.4" y2="628.22" stroke="#000" stroke-width="1.5"/>
<line x1="496.9" y1="617.8" x2="504.4" y2="617.8" stroke="#000" stroke-width="1.5"/>
<text x="495.9" y="623.2" font-size="15" text-anchor="end">5</text>
<line x1="500.4" y1="607.38" x2="504.4" y2="607.38" stroke="#000" stroke-width="1.5"/>
<line x1="500.4" y1="596.96" x2="504.4" y2="596.96" stroke="#000" stroke-width="1.5"/>
<line x1="500.4" y1="586.54" x2="504.4" y2="586.54" stroke="#000" stroke-width="1.5"/>
<line x1="500.4" y1="576.12" x2="504.4" y2="576.12" stroke="#000" stroke-width="1.5"/>
<line x1="496.9" y1="565.7" x2="504.4" y2="565.7" stroke="#000" stroke-width="1.5"/>
<text x="495.9" y="571.1" font-size="15" text-anchor="end">10</text>
<line x1="500.4" y1="555.28" x2="504.4" y2="555.28" stroke="#000" stroke-width="1.5"/>
<line x1="500.4" y1="544.86" x2="504.4" y2="544.86" stroke="#000" stroke-width="1.5"/>
<line x1="500.4" y1="534.44" x2="504.4" y2="534.44" stroke="#000" stroke-width="1.5"/>
<line x1="500.4" y1="524.02" x2="504.4" y2="524.02" stroke="#000" stroke-width="1.5"/>
<line x1="496.9" y1="513.6" x2="504.4" y2="513.6" stroke="#000" stroke-width="1.5"/>
<text x="495.9" y="519" font-size="15" text-anchor="end">15</text>
<text x="535.3" y="687.6" font-size="13.1" text-anchor="middle">6 Months</text>
<text transform="translate(470.3 589.55) rotate(-90)" font-size="15.4" text-anchor="middle">MI size (% of LVM)</text>
<path d="M515.6 547.4 V511.8 H542.4 V522" stroke="#666" stroke-width="1.1" fill="none"/>
<text x="530.4" y="513.45" font-size="14.24" text-anchor="middle" stroke="#000" stroke-width="0.25">*</text>
<path d="M543.6 522 V511.8 H557.6 V548" stroke="#666" stroke-width="1.1" fill="none"/>
<text x="551.4" y="513.45" font-size="14.24" text-anchor="middle" stroke="#000" stroke-width="0.25">*</text>
<text x="459.8" y="736" font-size="13.52" text-anchor="start">P (sex) = 0.034</text>
<text x="459.8" y="749.8" font-size="13.52" text-anchor="start">P (treatment) = 0.96</text>
<text x="459.8" y="763.6" font-size="13.52" text-anchor="start">P (sex*treatment) = 0.038</text>
</svg>
</body>
</html>
